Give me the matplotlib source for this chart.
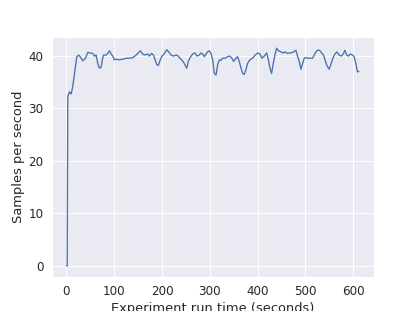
import matplotlib
matplotlib.use('Agg')
import matplotlib.pyplot as plt
import seaborn as sns

# Experiment run time (seconds) and observed sampling rate
run_time = [0, 1.5, 2.7, 6, 9.8, 13, 16.7, 21.6, 25.8, 30.7, 34, 39.7, 44.6, 49.5,
            55, 58.5, 62, 65.5, 69, 72.5, 74.6, 77.4, 83, 86.4, 90, 93.4, 96.8,
            100.3, 103.9, 110.8, 117.8, 124.8, 131.7, 138.6, 145.7, 151.2, 154.7,
            159.5, 163.5, 170, 173.5, 178, 182, 185.4, 188.9, 192.3, 195, 199.3,
            204.9, 209.7, 214, 218.9, 224, 229.3, 234, 237.4, 241, 245.3, 248.8,
            251.6, 255, 259.3, 264, 269, 273, 278, 281.5, 285, 288.5, 292, 295.5,
            299, 302.5, 306, 309.4, 313, 316.4, 320, 323.3, 326.8, 332.4, 337.3,
            342, 346, 349.8, 353.3, 358, 361.6, 365.3, 368.8, 372, 375.6, 379,
            384, 389.5, 395, 400, 405, 409, 414, 419, 422.5, 425.9, 429.3, 432.8,
            436.3, 439.8, 444, 448.9, 453.8, 458, 462.7, 466, 469.7, 475.3, 480.2,
            483.6, 487.1, 490.6, 494, 497.6, 501, 505.9, 511.5, 515, 518.5, 522,
            525.4, 530, 533.8, 538, 540.8, 545, 549.8, 553.3, 556.8, 561.6, 565.9,
            570.8, 575.6, 579.8, 582.6, 586.8, 590.3, 593.8, 598.7, 602, 605.7,
            609, 612]
samples = [0, 0, 32.2, 33.1, 32.7, 34.1, 36.6, 39.8, 40.1, 39.5, 39.0, 39.5, 40.6,
           40.5, 40.4, 39.9, 40.1, 38.5, 37.6, 37.8, 39.0, 40.1, 40.1, 40.4, 40.9,
           40.3, 39.9, 39.2, 39.3, 39.2, 39.3, 39.5, 39.5, 39.6, 40.1, 40.6, 40.9,
           40.3, 40.1, 40.3, 39.9, 40.4, 40.1, 39.2, 38.3, 38.1, 38.9, 39.8, 40.4,
           41.1, 40.7, 40.1, 39.9, 40.1, 39.9, 39.5, 39.2, 38.7, 38.1, 37.6, 38.9,
           39.7, 40.3, 40.5, 39.9, 40.1, 40.5, 40.3, 39.8, 40.3, 40.7, 40.9, 40.4,
           39.2, 36.6, 36.3, 38.3, 39.2, 39.1, 39.5, 39.5, 39.8, 39.9, 39.5, 38.9,
           39.3, 39.8, 38.9, 37.6, 36.6, 36.4, 37.3, 38.5, 39.2, 39.5, 40.1, 40.5,
           40.3, 39.5, 39.9, 40.5, 39.2, 37.6, 36.6, 38.5, 40.1, 41.4, 40.9, 40.7,
           40.5, 40.7, 40.4, 40.5, 40.5, 40.7, 41.0, 39.9, 38.9, 37.4, 38.4, 39.5,
           39.6, 39.5, 39.5, 39.5, 40.1, 40.7, 41.0, 41.0, 40.5, 40.1, 39.3, 38.1,
           37.4, 38.3, 39.3, 40.3, 40.7, 40.1, 39.9, 40.4, 41.0, 40.1, 39.9, 40.3,
           40.1, 39.8, 38.5, 36.9, 37.0]

sns.set_theme(font_scale=1.2)

fig, ax = plt.subplots(figsize=(415 / 65, 311 / 65), dpi=65)
ax.plot(run_time, samples)
ax.set(xlabel='Experiment run time (seconds)', ylabel='Samples per second')

plt.savefig('out.png', dpi=65)
